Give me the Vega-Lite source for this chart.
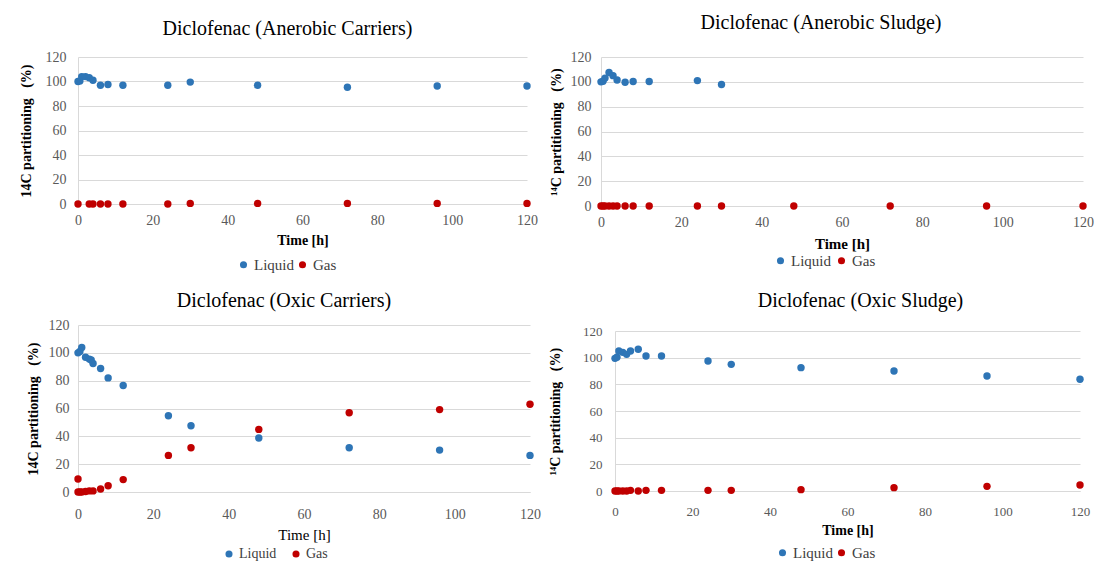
{
  "$schema": "https://vega.github.io/schema/vega-lite/v6.json",
  "background": "white",
  "padding": {"left": 18, "top": 13, "right": 0, "bottom": 0},
  "config": {
    "view": {"stroke": null},
    "font": "'Liberation Serif', 'Times New Roman', serif",
    "title": {"font": "'Liberation Serif', 'Times New Roman', serif", "fontSize": 20, "fontWeight": "normal", "color": "#000000", "frame": "group", "anchor": "middle", "offset": 12},
    "axis": {"labelFont": "'Liberation Serif', 'Times New Roman', serif", "labelFontSize": 14, "labelColor": "#595959", "titleFont": "'Liberation Serif', 'Times New Roman', serif", "titleFontSize": 14, "titleFontWeight": "bold", "titleColor": "#000000", "ticks": false, "domainColor": "#D9D9D9", "gridColor": "#D9D9D9", "labelPadding": 9, "labelFlush": false},
    "legend": {"labelFont": "'Liberation Serif', 'Times New Roman', serif", "labelFontSize": 15, "labelColor": "#404040", "symbolType": "circle", "symbolSize": 50, "direction": "horizontal", "orient": "none", "title": null, "columnPadding": 3, "symbolOffset": 0, "labelOffset": 3}
  },
  "datasets": {
    "d": [
      {"panel": "P1", "series": "Liquid", "time": 0, "value": 100},
      {"panel": "P1", "series": "Liquid", "time": 0.5, "value": 100.5},
      {"panel": "P1", "series": "Liquid", "time": 1, "value": 104},
      {"panel": "P1", "series": "Liquid", "time": 2, "value": 104},
      {"panel": "P1", "series": "Liquid", "time": 3, "value": 103},
      {"panel": "P1", "series": "Liquid", "time": 4, "value": 101},
      {"panel": "P1", "series": "Liquid", "time": 6, "value": 97},
      {"panel": "P1", "series": "Liquid", "time": 8, "value": 97.5},
      {"panel": "P1", "series": "Liquid", "time": 12, "value": 97},
      {"panel": "P1", "series": "Liquid", "time": 24, "value": 97},
      {"panel": "P1", "series": "Liquid", "time": 30, "value": 99.5},
      {"panel": "P1", "series": "Liquid", "time": 48, "value": 97},
      {"panel": "P1", "series": "Liquid", "time": 72, "value": 95.3},
      {"panel": "P1", "series": "Liquid", "time": 96, "value": 96.3},
      {"panel": "P1", "series": "Liquid", "time": 120, "value": 96.3},
      {"panel": "P1", "series": "Gas", "time": 0, "value": 0},
      {"panel": "P1", "series": "Gas", "time": 3, "value": 0},
      {"panel": "P1", "series": "Gas", "time": 4, "value": 0},
      {"panel": "P1", "series": "Gas", "time": 6, "value": 0},
      {"panel": "P1", "series": "Gas", "time": 8, "value": 0},
      {"panel": "P1", "series": "Gas", "time": 12, "value": 0},
      {"panel": "P1", "series": "Gas", "time": 24, "value": 0},
      {"panel": "P1", "series": "Gas", "time": 30, "value": 0.5},
      {"panel": "P1", "series": "Gas", "time": 48, "value": 0.5},
      {"panel": "P1", "series": "Gas", "time": 72, "value": 0.5},
      {"panel": "P1", "series": "Gas", "time": 96, "value": 0.5},
      {"panel": "P1", "series": "Gas", "time": 120, "value": 0.5},

      {"panel": "P2", "series": "Liquid", "time": 0, "value": 100},
      {"panel": "P2", "series": "Liquid", "time": 0.5, "value": 100.5},
      {"panel": "P2", "series": "Liquid", "time": 1, "value": 103},
      {"panel": "P2", "series": "Liquid", "time": 2, "value": 107.5},
      {"panel": "P2", "series": "Liquid", "time": 3, "value": 105},
      {"panel": "P2", "series": "Liquid", "time": 4, "value": 101.5},
      {"panel": "P2", "series": "Liquid", "time": 6, "value": 99.7},
      {"panel": "P2", "series": "Liquid", "time": 8, "value": 100.3},
      {"panel": "P2", "series": "Liquid", "time": 12, "value": 100.3},
      {"panel": "P2", "series": "Liquid", "time": 24, "value": 101},
      {"panel": "P2", "series": "Liquid", "time": 30, "value": 97.8},
      {"panel": "P2", "series": "Gas", "time": 0, "value": 0},
      {"panel": "P2", "series": "Gas", "time": 0.5, "value": 0},
      {"panel": "P2", "series": "Gas", "time": 1, "value": 0},
      {"panel": "P2", "series": "Gas", "time": 2, "value": 0},
      {"panel": "P2", "series": "Gas", "time": 3, "value": 0},
      {"panel": "P2", "series": "Gas", "time": 4, "value": 0},
      {"panel": "P2", "series": "Gas", "time": 6, "value": 0},
      {"panel": "P2", "series": "Gas", "time": 8, "value": 0},
      {"panel": "P2", "series": "Gas", "time": 12, "value": 0},
      {"panel": "P2", "series": "Gas", "time": 24, "value": 0},
      {"panel": "P2", "series": "Gas", "time": 30, "value": 0},
      {"panel": "P2", "series": "Gas", "time": 48, "value": 0},
      {"panel": "P2", "series": "Gas", "time": 72, "value": 0},
      {"panel": "P2", "series": "Gas", "time": 96, "value": 0},
      {"panel": "P2", "series": "Gas", "time": 120, "value": 0},

      {"panel": "P3", "series": "Liquid", "time": 0, "value": 100},
      {"panel": "P3", "series": "Liquid", "time": 0.5, "value": 101},
      {"panel": "P3", "series": "Liquid", "time": 1, "value": 103.8},
      {"panel": "P3", "series": "Liquid", "time": 2, "value": 96.8},
      {"panel": "P3", "series": "Liquid", "time": 3, "value": 95.5},
      {"panel": "P3", "series": "Liquid", "time": 3.5, "value": 94.8},
      {"panel": "P3", "series": "Liquid", "time": 4, "value": 92.3},
      {"panel": "P3", "series": "Liquid", "time": 6, "value": 88.8},
      {"panel": "P3", "series": "Liquid", "time": 8, "value": 82},
      {"panel": "P3", "series": "Liquid", "time": 12, "value": 76.5},
      {"panel": "P3", "series": "Liquid", "time": 24, "value": 54.8},
      {"panel": "P3", "series": "Liquid", "time": 30, "value": 47.6},
      {"panel": "P3", "series": "Liquid", "time": 48, "value": 38.8},
      {"panel": "P3", "series": "Liquid", "time": 72, "value": 31.8},
      {"panel": "P3", "series": "Liquid", "time": 96, "value": 30.1},
      {"panel": "P3", "series": "Liquid", "time": 120, "value": 26.3},
      {"panel": "P3", "series": "Gas", "time": 0, "value": 9.3},
      {"panel": "P3", "series": "Gas", "time": 0, "value": 0},
      {"panel": "P3", "series": "Gas", "time": 0.5, "value": 0},
      {"panel": "P3", "series": "Gas", "time": 1, "value": 0},
      {"panel": "P3", "series": "Gas", "time": 2, "value": 0.3},
      {"panel": "P3", "series": "Gas", "time": 3, "value": 0.8},
      {"panel": "P3", "series": "Gas", "time": 4, "value": 0.8},
      {"panel": "P3", "series": "Gas", "time": 6, "value": 2.2},
      {"panel": "P3", "series": "Gas", "time": 8, "value": 4.5},
      {"panel": "P3", "series": "Gas", "time": 12, "value": 8.9},
      {"panel": "P3", "series": "Gas", "time": 24, "value": 26.3},
      {"panel": "P3", "series": "Gas", "time": 30, "value": 31.8},
      {"panel": "P3", "series": "Gas", "time": 48, "value": 45},
      {"panel": "P3", "series": "Gas", "time": 72, "value": 57},
      {"panel": "P3", "series": "Gas", "time": 96, "value": 59.2},
      {"panel": "P3", "series": "Gas", "time": 120, "value": 63},

      {"panel": "P4", "series": "Liquid", "time": 0, "value": 99.5},
      {"panel": "P4", "series": "Liquid", "time": 0.5, "value": 100.3},
      {"panel": "P4", "series": "Liquid", "time": 1, "value": 105},
      {"panel": "P4", "series": "Liquid", "time": 2, "value": 104},
      {"panel": "P4", "series": "Liquid", "time": 3, "value": 102.5},
      {"panel": "P4", "series": "Liquid", "time": 4, "value": 105},
      {"panel": "P4", "series": "Liquid", "time": 6, "value": 106.3},
      {"panel": "P4", "series": "Liquid", "time": 8, "value": 101.2},
      {"panel": "P4", "series": "Liquid", "time": 12, "value": 101.2},
      {"panel": "P4", "series": "Liquid", "time": 24, "value": 97.5},
      {"panel": "P4", "series": "Liquid", "time": 30, "value": 95},
      {"panel": "P4", "series": "Liquid", "time": 48, "value": 92.5},
      {"panel": "P4", "series": "Liquid", "time": 72, "value": 90},
      {"panel": "P4", "series": "Liquid", "time": 96, "value": 86.2},
      {"panel": "P4", "series": "Liquid", "time": 120, "value": 83.8},
      {"panel": "P4", "series": "Gas", "time": 0, "value": 0},
      {"panel": "P4", "series": "Gas", "time": 0.5, "value": 0},
      {"panel": "P4", "series": "Gas", "time": 1, "value": 0},
      {"panel": "P4", "series": "Gas", "time": 2, "value": 0},
      {"panel": "P4", "series": "Gas", "time": 3, "value": 0},
      {"panel": "P4", "series": "Gas", "time": 4, "value": 0.5},
      {"panel": "P4", "series": "Gas", "time": 6, "value": 0},
      {"panel": "P4", "series": "Gas", "time": 8, "value": 0.5},
      {"panel": "P4", "series": "Gas", "time": 12, "value": 0.5},
      {"panel": "P4", "series": "Gas", "time": 24, "value": 0.5},
      {"panel": "P4", "series": "Gas", "time": 30, "value": 0.5},
      {"panel": "P4", "series": "Gas", "time": 48, "value": 1},
      {"panel": "P4", "series": "Gas", "time": 72, "value": 2.5},
      {"panel": "P4", "series": "Gas", "time": 96, "value": 3.5},
      {"panel": "P4", "series": "Gas", "time": 120, "value": 4.5}
    ]
  },
  "resolve": {"scale": {"color": "independent"}, "legend": {"color": "independent"}},
  "columns": 2,
  "align": "none",
  "spacing": {"row": 18, "column": 7},
  "concat": [
    {
      "width": 449, "height": 147,
      "title": {"text": "Diclofenac (Anerobic Carriers)", "dx": -15, "offset": 11},
      "data": {"name": "d"},
      "transform": [{"filter": "datum.panel === 'P1'"}],
      "mark": {"type": "circle", "size": 55, "opacity": 1},
      "encoding": {
        "x": {"field": "time", "type": "quantitative", "scale": {"domain": [0, 120], "nice": false}, "axis": {"values": [0, 20, 40, 60, 80, 100, 120], "grid": false, "title": "Time [h]", "titlePadding": 6}},
        "y": {"field": "value", "type": "quantitative", "scale": {"domain": [0, 120], "nice": false}, "axis": {"values": [0, 20, 40, 60, 80, 100, 120], "title": "14C partitioning\u00a0\u00a0\u00a0(%)", "titlePadding": 12, "labelPadding": 12}},
        "color": {"field": "series", "type": "nominal", "scale": {"domain": ["Liquid", "Gas"], "range": ["#2E75B6", "#C00000"]}, "legend": {"legendX": 158, "legendY": 200, "columnPadding": 1}}
      }
    },
    {
      "width": 482, "height": 149,
      "title": {"text": "Diclofenac (Anerobic Sludge)", "dx": -21, "offset": 17},
      "data": {"name": "d"},
      "transform": [{"filter": "datum.panel === 'P2'"}],
      "mark": {"type": "circle", "size": 55, "opacity": 1},
      "encoding": {
        "x": {"field": "time", "type": "quantitative", "scale": {"domain": [0, 120], "nice": false}, "axis": {"values": [0, 20, 40, 60, 80, 100, 120], "grid": false, "title": "Time [h]", "titlePadding": 7, "titleFontSize": 15}},
        "y": {"field": "value", "type": "quantitative", "scale": {"domain": [0, 120], "nice": false}, "axis": {"values": [0, 20, 40, 60, 80, 100, 120], "title": "\u00b9\u2074C partitioning\u00a0\u00a0\u00a0(%)", "titlePadding": 7, "labelPadding": 10}},
        "color": {"field": "series", "type": "nominal", "scale": {"domain": ["Liquid", "Gas"], "range": ["#2E75B6", "#C00000"]}, "legend": {"legendX": 172, "legendY": 196}}
      }
    },
    {
      "width": 452, "height": 167,
      "title": {"text": "Diclofenac (Oxic Carriers)", "dx": -20, "offset": 7},
      "data": {"name": "d"},
      "transform": [{"filter": "datum.panel === 'P3'"}],
      "mark": {"type": "circle", "size": 55, "opacity": 1},
      "encoding": {
        "x": {"field": "time", "type": "quantitative", "scale": {"domain": [0, 120], "nice": false}, "axis": {"values": [0, 20, 40, 60, 80, 100, 120], "grid": false, "title": "Time [h]", "titleFontWeight": "normal", "titleFontSize": 15, "titlePadding": 6, "labelPadding": 15}},
        "y": {"field": "value", "type": "quantitative", "scale": {"domain": [0, 120], "nice": false}, "axis": {"values": [0, 20, 40, 60, 80, 100, 120], "title": "14C partitioning\u00a0\u00a0\u00a0(%)", "titlePadding": 8, "labelPadding": 9}},
        "color": {"field": "series", "type": "nominal", "scale": {"domain": ["Liquid", "Gas"], "range": ["#2E75B6", "#C00000"]}, "legend": {"legendX": 144, "legendY": 222, "labelFontSize": 14, "columnPadding": 12}}
      }
    },
    {
      "width": 465, "height": 160,
      "title": {"text": "Diclofenac (Oxic Sludge)", "dx": 13, "offset": 14},
      "data": {"name": "d"},
      "transform": [{"filter": "datum.panel === 'P4'"}],
      "mark": {"type": "circle", "size": 55, "opacity": 1},
      "encoding": {
        "x": {"field": "time", "type": "quantitative", "scale": {"domain": [0, 120], "nice": false}, "axis": {"values": [0, 20, 40, 60, 80, 100, 120], "grid": false, "title": "Time [h]", "titlePadding": 5, "labelFontSize": 13, "labelPadding": 14}},
        "y": {"field": "value", "type": "quantitative", "scale": {"domain": [0, 120], "nice": false}, "axis": {"values": [0, 20, 40, 60, 80, 100, 120], "title": "\u00b9\u2074C partitioning\u00a0\u00a0\u00a0(%)", "titlePadding": 20, "labelFontSize": 13, "labelPadding": 13}},
        "color": {"field": "series", "type": "nominal", "scale": {"domain": ["Liquid", "Gas"], "range": ["#2E75B6", "#C00000"]}, "legend": {"legendX": 160, "legendY": 214, "columnPadding": 1}}
      }
    }
  ]
}
